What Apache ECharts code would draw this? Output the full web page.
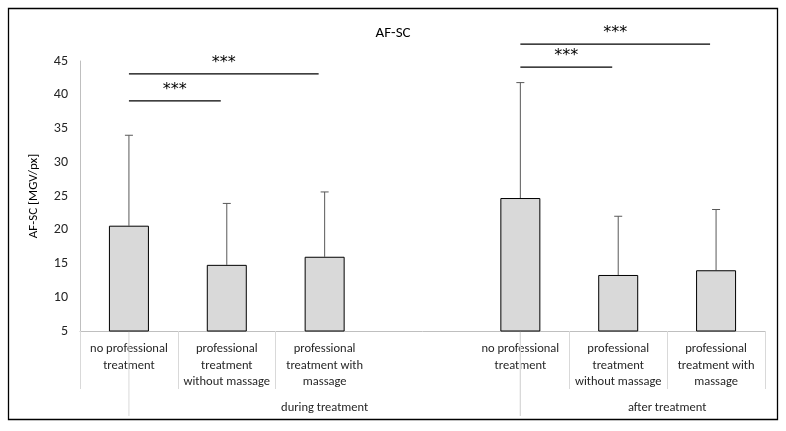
<!DOCTYPE html>
<html><head><meta charset="utf-8">
<script src="https://cdn.jsdelivr.net/npm/echarts@6/dist/echarts.min.js"></script>
<style>body{margin:0}#c{width:786px;height:431px}</style>
</head><body><div id="c"></div>
<script>
var categories = ['no professional\ntreatment', 'professional\ntreatment\nwithout massage', 'professional\ntreatment with\nmassage', '',
                  'no professional\ntreatment', 'professional\ntreatment\nwithout massage', 'professional\ntreatment with\nmassage'];
var means = [20.6, 14.8, 16.0, null, 24.7, 13.3, 14.0];
var upper = [34.0, 23.9, 25.6, null, 41.8, 22.0, 23.0];
var groups = [['during treatment', -0.5, 3.5], ['after treatment', 3.5, 6.5]];
// significance brackets: from index, to index, height
var sig = [[0, 1, 39.1], [0, 2, 43.1], [4, 5, 44.1], [4, 6, 47.5]];

var chart = echarts.init(document.getElementById('c'));
var font = 'Calibri, Carlito, "Open Sans", sans-serif';
chart.setOption({
  animation: false,
  title: {text: 'AF-SC', left: 'center', top: 21, textStyle: {fontSize: 15, fontWeight: 'normal', color: '#000', fontFamily: font}},
  graphic: [{type: 'rect', shape: {x: 8.5, y: 8.5, width: 769, height: 411}, style: {fill: 'none', stroke: '#000', lineWidth: 1.3}}],
  grid: {left: 80, right: 21, top: 61, bottom: 100},
  xAxis: {type: 'category', data: categories,
    axisLine: {lineStyle: {color: '#bfbfbf'}}, axisTick: {show: true, length: 58, interval: function(i){return i!==3 && i!==4;}, lineStyle: {color: '#d9d9d9'}},
    axisLabel: {color: '#262626', fontSize: 12.5, fontFamily: font, lineHeight: 16.5, margin: 10, interval: 0}},
  yAxis: {type: 'value', min: 5, max: 45, interval: 5, splitLine: {show: false},
    axisLine: {show: true, lineStyle: {color: '#bfbfbf'}},
    name: 'AF-SC [MGV/px]', nameLocation: 'middle', nameGap: 40, nameRotate: 90,
    nameTextStyle: {fontSize: 13, color: '#000', fontFamily: font},
    axisLabel: {color: '#262626', fontSize: 14, fontFamily: font, margin: 12}},
  series: [
    {type: 'bar', data: means, barWidth: 40, itemStyle: {color: '#d9d9d9', borderColor: '#000', borderWidth: 1}},
    {type: 'custom', data: upper.map(function(u, i){return [i, means[i], u];}),
      renderItem: function(p, api){
        if (upper[p.dataIndex] == null) return;
        var a = api.coord([api.value(0), api.value(1)]), b = api.coord([api.value(0), api.value(2)]);
        return {type: 'group', children: [
          {type: 'line', shape: {x1: a[0], y1: a[1], x2: b[0], y2: b[1]}, style: {stroke: '#595959', lineWidth: 1}},
          {type: 'line', shape: {x1: b[0]-4, y1: b[1], x2: b[0]+4, y2: b[1]}, style: {stroke: '#595959', lineWidth: 1}}]};
      }},
    {type: 'custom', clip: false, data: sig,
      renderItem: function(p, api){
        var a = api.coord([api.value(0), api.value(2)]), b = api.coord([api.value(1), api.value(2)]);
        b[0] -= 6;
        return {type: 'group', children: [
          {type: 'line', shape: {x1: a[0], y1: a[1], x2: b[0], y2: b[1]}, style: {stroke: '#000', lineWidth: 1.3}},
          {type: 'text', style: {x: (a[0]+b[0])/2, y: a[1]-3, text: '***', textAlign: 'center', textVerticalAlign: 'bottom', fontSize: 16, fill: '#000', fontFamily: '"DejaVu Sans", sans-serif'}}]};
      }},
    {type: 'custom', clip: false, data: groups.map(function(g){return [g[1], g[2]];}),
      renderItem: function(p, api){
        var a = api.coord([api.value(0), 5]), b = api.coord([api.value(1), 5]);
        return {type: 'group', children: [
          {type: 'line', shape: {x1: a[0], y1: a[1], x2: a[0], y2: a[1]+85}, style: {stroke: '#d9d9d9'}},
          {type: 'line', shape: {x1: b[0], y1: b[1], x2: b[0], y2: b[1]+85}, style: {stroke: '#d9d9d9'}},
          {type: 'text', style: {x: (a[0]+b[0])/2, y: a[1]+77, text: groups[p.dataIndex][0], textAlign: 'center', textVerticalAlign: 'middle', fontSize: 12.5, fill: '#262626', fontFamily: font}}]};
      }}
  ]
});
</script></body></html>
